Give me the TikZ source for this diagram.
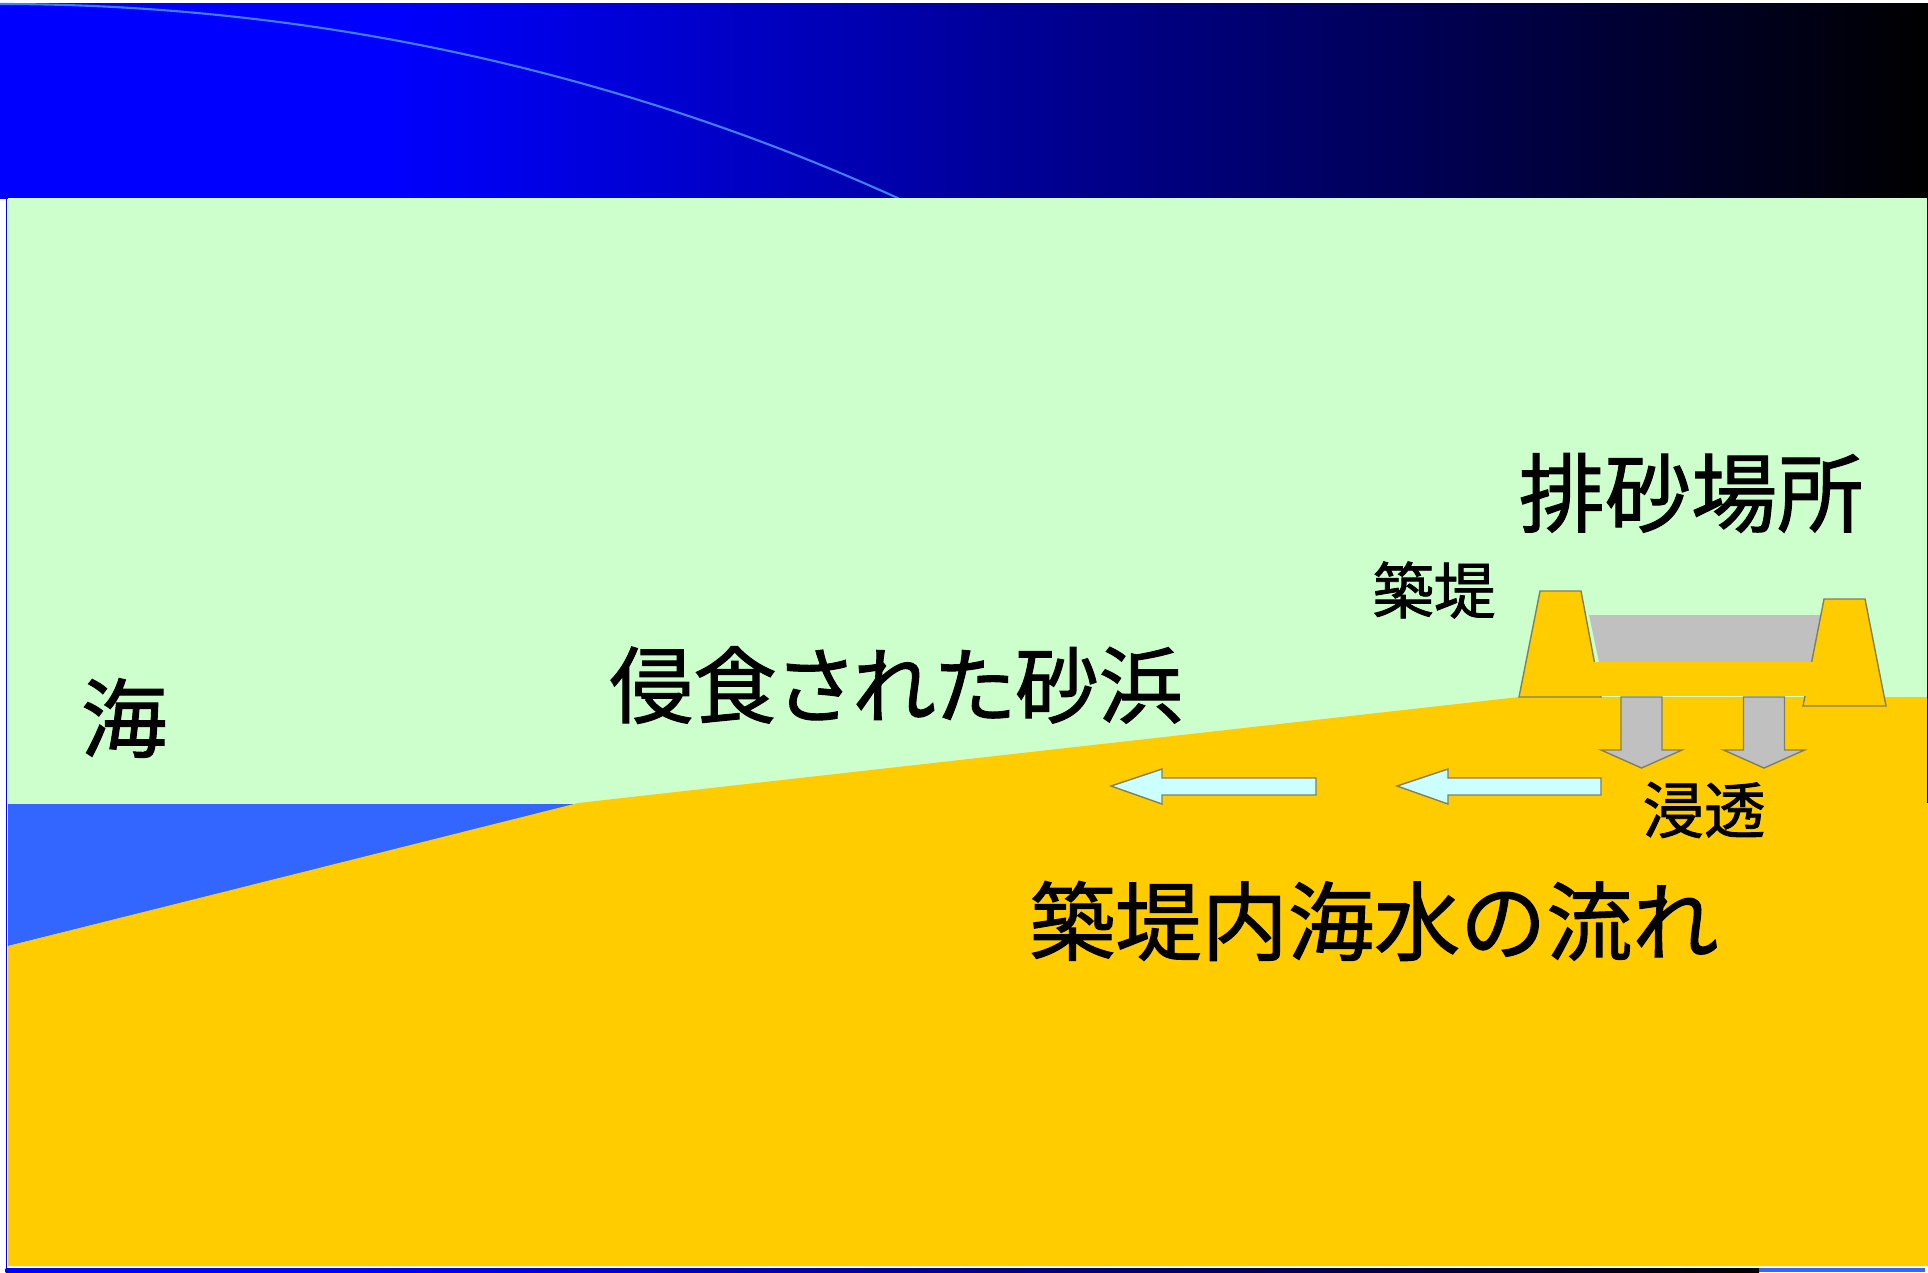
\documentclass[tikz,border=0pt]{standalone}
\usepackage{fontspec}
\newfontfamily\jpfont[FakeBold=1.2]{Noto Sans CJK JP}
\definecolor{seablue}{RGB}{51,102,255}
\definecolor{arcblue}{RGB}{64,128,255}
\definecolor{sandyellow}{RGB}{255,204,0}
\definecolor{landgreen}{RGB}{204,255,204}
\definecolor{pitgray}{RGB}{192,192,192}
\definecolor{flowcyan}{RGB}{204,255,255}
\definecolor{edgeolive}{RGB}{128,128,96}
\pgfdeclarehorizontalshading{bannershade}{100bp}{color(0bp)=(blue); color(35bp)=(blue); color(75bp)=(black); color(100bp)=(black)}

\begin{document}
\begin{tikzpicture}[x=0.01cm, y=-0.01cm,
    outline/.style={draw=edgeolive, line width=0.4pt},
    bigtext/.style={font=\jpfont\fontsize{24.5}{29}\selectfont, inner sep=0pt},
    smalltext/.style={font=\jpfont\fontsize{17.5}{21}\selectfont, inner sep=0pt}]
    \useasboundingbox (0,0) rectangle (1928,1272);
    \fill[white] (0,0) rectangle (1928,1272);

    % Title band
    \shade[shading=bannershade] (0,3) rectangle (1928,198);
    \draw[arcblue, line width=0.6pt] (0,4) arc[start angle=-90, end angle=-65.6, radius=2175];

    % Frame edges
    \fill[blue] (5.5,198) rectangle (7,1268);
    \shade[shading=bannershade] (5.5,1268) rectangle (1759,1272);
    \fill[seablue] (1759,1268) rectangle (1925,1272);

    % Land
    \fill[landgreen] (8,198) rectangle (1926.5,1266);

    % Sea
    \fill[seablue] (8,804) -- (578,804) -- (8,946) -- cycle;

    % Eroded beach and ground
    \fill[sandyellow] (8,946) -- (578,803) -- (1519,697) -- (1928,697)
        -- (1928,1266) -- (8,1266) -- cycle;
    \fill[black] (1926.5,198) rectangle (1928,803);

    % Sand pit between the dikes
    \fill[pitgray] (1589,615) -- (1821,615) -- (1812,662) -- (1599,662) -- cycle;

    % Dikes
    \filldraw[fill=sandyellow, outline] (1519,697) -- (1540,591) -- (1581,591) -- (1601,697) -- cycle;
    \filldraw[fill=sandyellow, outline] (1803,706) -- (1824,599) -- (1865,599) -- (1886,706) -- cycle;
    \fill[sandyellow] (1590,662) rectangle (1816,696.3);

    % Seepage arrows
    \foreach \x in {1641.5,1764}
        \filldraw[fill=pitgray, outline] (\x-20.5,697) -- (\x+20.5,697) -- (\x+20.5,750)
            -- (\x+40.5,750) -- (\x,768) -- (\x-40.5,750) -- (\x-20.5,750) -- cycle;

    % Flow arrows
    \foreach \x/\r in {1111/1316,1397/1601}
        \filldraw[fill=flowcyan, outline] (\x,786) -- (\x+51,769) -- (\x+51,778) -- (\r,778)
            -- (\r,795) -- (\x+51,795) -- (\x+51,804) -- cycle;

    % Labels
    \node[bigtext] (sea) at (124,718) {海};
    \node[bigtext, font=\jpfont\fontsize{23.8}{28}\selectfont] (beach) at (896,685)
        {\addfontfeatures{RawFeature=+palt}侵食された砂浜};
    \node[bigtext] (dump) at (1691,493) {排砂場所};
    \node[smalltext] (dike) at (1434,590) {築堤};
    \node[smalltext] (seep) at (1704,810) {浸透};
    \node[bigtext] (flow) at (1374,921) {築堤内海水の流れ};
\end{tikzpicture}
\end{document}
